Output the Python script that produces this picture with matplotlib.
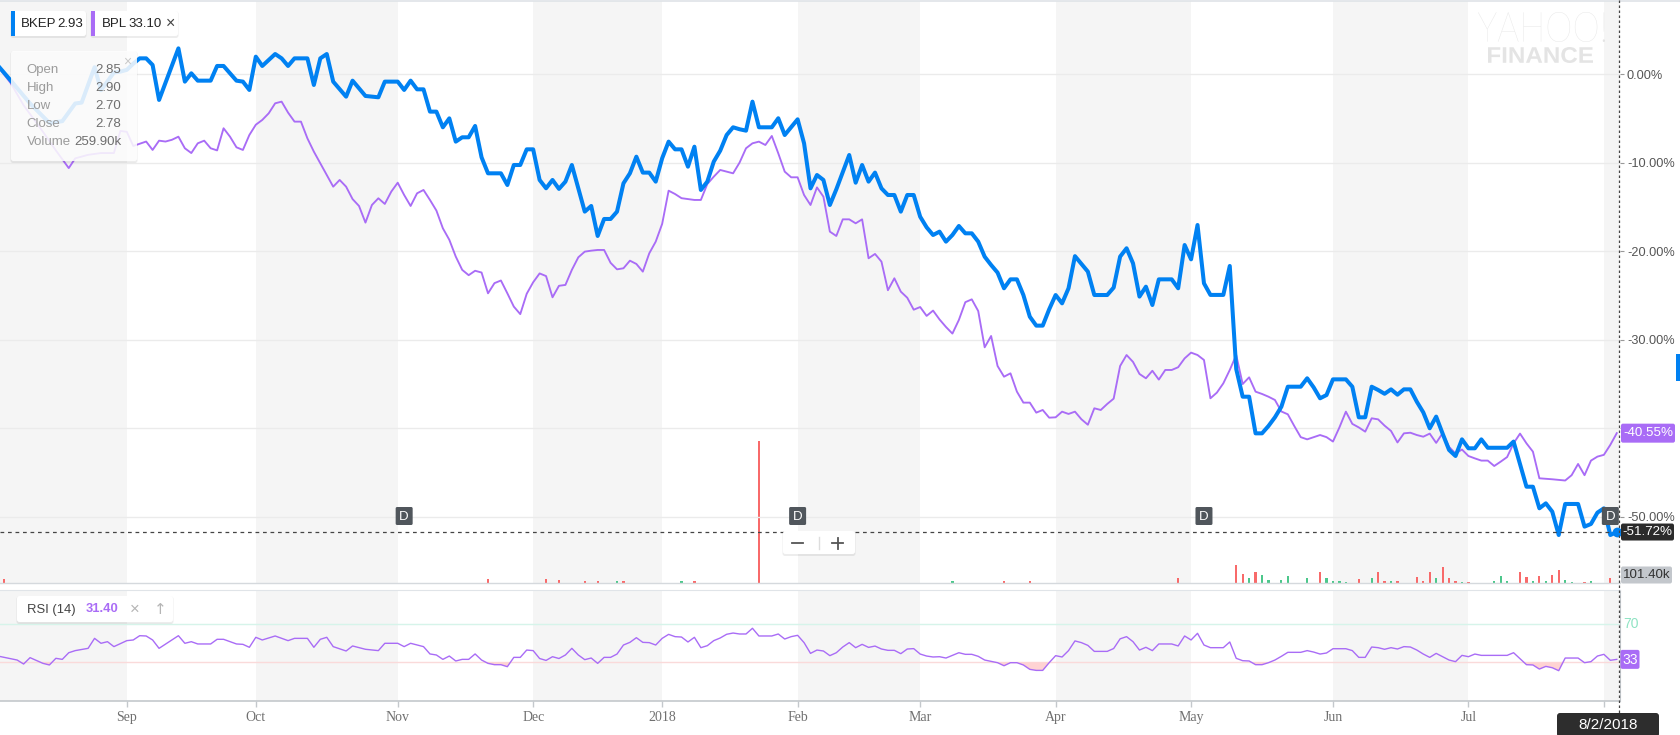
import matplotlib
matplotlib.use('Agg')
import matplotlib.pyplot as plt
from matplotlib.patches import FancyBboxPatch, Rectangle, PathPatch
from matplotlib.textpath import TextPath
from matplotlib.font_manager import FontProperties
from matplotlib.transforms import Affine2D

plt.rcParams['font.family'] = ['Liberation Sans', 'DejaVu Sans']

# ------------------------------------------------------------------ data
# x = trading-day index (0 = 1 Sep 2017), y = % change since start
bkep_points = [(-20, 1.0), (-18, -0.7), (-15, -3.3), (-12, -5.5), (-10, -5.3), (-8, -3.3), (-7, -3.2), (-5, 0.8),
    (-4, -1.8), (-2, 0.2), (-1, 0.3), (0, 0.5), (1, 1.2), (2, 1.8), (3, 1.8), (4, 1.05), (5, -2.9), (8, 2.93),
    (9, -0.83), (10, 0.11), (11, -0.72), (13, -0.72), (14, 0.94), (15, 0.94), (17, -0.72), (18, -0.83), (19, -1.77),
    (20, 1.99), (21, 0.94), (23, 2.29), (24, 1.8), (25, 0.94), (26, 1.8), (28, 1.8), (29, -1.21), (30, 1.8),
    (31, 2.29), (32, -0.83), (34, -2.53), (35, -0.72), (37, -2.45), (39, -2.6), (40, -0.83), (42, -0.83),
    (43, -1.77), (44, -0.72), (45, -1.7), (46, -1.7), (47, -4.22), (48, -4.22), (49, -5.99), (50, -4.98),
    (51, -7.61), (52, -7.12), (53, -7.12), (54, -5.84), (55, -9.38), (56, -11.19), (58, -11.19), (59, -12.51),
    (60, -10.25), (61, -10.25), (62, -8.48), (63, -8.48), (64, -11.94), (65, -12.88), (66, -11.94), (67, -12.95),
    (68, -12.13), (69, -10.25), (71, -15.52), (72, -14.88), (73, -18.27), (74, -16.35), (75, -16.35), (76, -15.52),
    (77, -12.32), (78, -11.19), (79, -9.31), (80, -11.11), (81, -11.11), (82, -12.13), (83, -9.49), (84, -7.61),
    (85, -8.48), (86, -8.48), (87, -10.44), (88, -8.18), (89, -13.07), (90, -12.13), (91, -9.87), (92, -8.63),
    (93, -6.86), (94, -5.99), (95, -6.21), (96, -6.37), (97, -3.09), (98, -5.99), (100, -5.99), (101, -4.97),
    (102, -6.86), (104, -5.09), (105, -7.8), (106, -12.89), (107, -11.38), (108, -11.94), (109, -14.77),
    (110, -13.0), (112, -9.12), (113, -12.25), (114, -10.25), (115, -12.13), (116, -11.11), (117, -12.89),
    (118, -13.64), (119, -13.64), (120, -15.52), (121, -13.64), (122, -13.64), (123, -16.09), (124, -17.29),
    (125, -18.16), (126, -17.78), (127, -18.91), (128, -18.16), (129, -17.14), (130, -17.97), (131, -17.97),
    (132, -18.91), (133, -20.61), (134, -21.55), (135, -22.41), (136, -24.18), (137, -23.17), (138, -23.17),
    (139, -24.94), (140, -27.39), (141, -28.4), (142, -28.4), (143, -26.56), (144, -24.94), (145, -25.88),
    (146, -24.18), (147, -20.55), (148, -21.43), (149, -22.3), (150, -24.94), (152, -24.94), (153, -24.1),
    (154, -20.6), (155, -19.66), (156, -21.36), (157, -25.12), (158, -24.0), (159, -26.07), (160, -23.17),
    (162, -23.17), (163, -24.18), (164, -19.29), (165, -20.91), (166, -17.03), (167, -23.62), (168, -24.93),
    (170, -24.93), (171, -21.66), (172, -33.3), (173, -36.43), (174, -36.43), (175, -40.57), (176, -40.57),
    (177, -39.74), (178, -38.76), (179, -37.56), (180, -35.3), (182, -35.3), (183, -34.35), (184, -35.37),
    (185, -36.61), (186, -36.24), (187, -34.47), (189, -34.47), (190, -35.3), (191, -38.76), (192, -38.76),
    (193, -35.3), (194, -35.67), (195, -36.1), (196, -35.6), (197, -36.2), (198, -35.6), (199, -35.6),
    (200, -37.0), (201, -38.2), (202, -40.0), (203, -38.68), (204, -40.6), (205, -42.45), (206, -43.13),
    (207, -41.25), (208, -42.26), (209, -42.26), (210, -41.25), (211, -42.2), (214, -42.2), (215, -41.5),
    (217, -46.6), (218, -46.6), (219, -49.04), (220, -48.48), (221, -49.42), (222, -52.06), (223, -48.55),
    (225, -48.55), (226, -51.11), (227, -50.81), (228, -49.53), (229, -49.04), (230, -52.06), (231, -51.72)]

bpl_points = [(-20, 0.9), (-18, -1.0), (-16, -3.5), (-13, -6.5), (-11, -8.6), (-9, -10.6), (-8, -9.5), (-6, -9.1),
    (-4, -8.9), (-2, -8.9), (-1, -6.4), (0, -6.5), (1, -8.1), (3, -7.6), (4, -8.55), (5, -7.5), (6, -7.6),
    (7, -7.4), (8, -7.05), (9, -8.36), (10, -8.9), (11, -7.8), (12, -7.5), (13, -8.36), (14, -8.6), (15, -6.1),
    (16, -7.05), (17, -8.25), (18, -8.55), (19, -6.86), (20, -5.7), (21, -5.16), (22, -4.41), (23, -3.28),
    (24, -3.09), (25, -4.33), (26, -5.35), (27, -5.35), (28, -7.24), (29, -8.74), (30, -10.06), (31, -11.38),
    (32, -12.7), (33, -11.94), (34, -12.7), (35, -14.1), (36, -14.88), (37, -16.76), (38, -14.77), (39, -14.01),
    (40, -14.65), (41, -13.26), (42, -12.25), (43, -13.64), (44, -14.88), (45, -13.45), (46, -13.07), (47, -14.2),
    (48, -15.4), (49, -17.4), (50, -18.7), (51, -20.6), (52, -22.1), (53, -22.7), (54, -22.2), (55, -22.4),
    (56, -24.75), (57, -23.6), (58, -23.3), (59, -24.75), (60, -26.25), (61, -27.1), (62, -24.8), (63, -23.5),
    (64, -22.5), (65, -22.8), (66, -25.2), (67, -23.9), (68, -23.8), (69, -22.1), (70, -20.68), (71, -20.04),
    (72, -19.93), (73, -19.85), (74, -19.85), (75, -21.3), (76, -22.04), (77, -21.92), (78, -21.06), (79, -21.43),
    (80, -22.3), (81, -20.23), (82, -18.91), (83, -16.9), (84, -13.15), (85, -13.53), (86, -14.0), (88, -14.2),
    (89, -14.2), (90, -12.4), (91, -11.57), (92, -10.81), (93, -11.0), (94, -11.19), (95, -9.98), (96, -8.36),
    (97, -7.8), (98, -7.61), (99, -7.99), (100, -6.97), (101, -8.93), (102, -11.0), (103, -11.64), (104, -11.64),
    (105, -13.64), (106, -14.77), (107, -12.78), (108, -13.83), (109, -17.78), (110, -18.27), (111, -16.39),
    (112, -16.39), (113, -16.84), (114, -16.39), (115, -20.79), (116, -20.3), (117, -21.17), (118, -24.4),
    (119, -23.05), (120, -24.56), (121, -25.25), (122, -26.6), (123, -26.3), (124, -27.3), (125, -26.7),
    (126, -27.7), (127, -28.55), (128, -29.3), (129, -27.76), (130, -25.75), (131, -25.43), (132, -26.75),
    (133, -30.85), (134, -29.57), (135, -32.96), (136, -34.17), (137, -33.79), (138, -35.86), (139, -37.1),
    (140, -37.1), (141, -38.23), (142, -37.93), (143, -38.8), (144, -38.76), (145, -38.12), (146, -38.38),
    (147, -38.12), (148, -38.98), (149, -39.6), (150, -37.74), (151, -37.93), (152, -37.25), (153, -36.65),
    (154, -32.96), (155, -31.72), (156, -32.5), (157, -33.86), (158, -34.35), (159, -33.5), (160, -34.5),
    (161, -33.41), (162, -33.41), (163, -33.1), (164, -32.1), (165, -31.45), (166, -31.72), (167, -32.28),
    (168, -36.61), (169, -35.97), (170, -34.92), (171, -33.41), (172, -31.72), (173, -35.0), (174, -34.24),
    (175, -35.86), (176, -36.12), (177, -36.43), (178, -36.8), (179, -38.1), (180, -38.42), (181, -39.74),
    (182, -41.0), (183, -41.25), (184, -41.0), (185, -40.76), (186, -41.0), (187, -41.5), (188, -39.9),
    (189, -38.12), (190, -39.5), (191, -39.9), (192, -40.38), (193, -38.87), (194, -38.99), (195, -39.7),
    (196, -40.3), (197, -41.6), (198, -40.57), (199, -40.5), (200, -40.76), (201, -40.95), (202, -40.6),
    (203, -41.65), (204, -40.55), (205, -42.1), (206, -42.85), (207, -42.4), (208, -43.13), (209, -43.4),
    (210, -43.65), (211, -43.65), (212, -44.26), (213, -43.77), (214, -43.25), (215, -41.7), (216, -40.6),
    (217, -41.7), (218, -42.64), (219, -45.65), (221, -45.76), (223, -45.9), (224, -45.3), (225, -44.03),
    (226, -45.3), (227, -43.65), (228, -43.2), (229, -43.0), (230, -41.87), (231, -40.55)]

rsi_points = [(-20, 36.6), (-17, 32.4), (-16, 28.2), (-15, 34.9), (-13, 28.9), (-12, 27.2), (-11, 34.2), (-10, 33.1),
    (-9, 40.1), (-8, 42.3), (-6, 44.7), (-5, 55.2), (-4, 50.0), (-3, 51.7), (-2, 46.5), (0, 52.8), (1, 53.5),
    (2, 58.0), (3, 57.7), (4, 53.5), (5, 44.7), (8, 58.0), (9, 50.0), (10, 51.7), (11, 49.3), (13, 49.3),
    (14, 54.2), (15, 54.2), (17, 49.3), (18, 48.9), (19, 45.8), (20, 56.3), (21, 53.5), (23, 57.7), (25, 52.8),
    (26, 55.2), (28, 55.2), (29, 45.8), (30, 54.2), (31, 56.3), (32, 46.5), (34, 41.9), (35, 47.2), (37, 43.7),
    (39, 42.3), (40, 50.0), (42, 50.0), (43, 46.5), (44, 50.0), (46, 46.5), (47, 38.8), (48, 37.7), (49, 33.1),
    (50, 36.6), (51, 31.4), (52, 33.1), (53, 33.1), (54, 38.8), (55, 32.4), (56, 28.9), (57, 27.5), (58, 27.5),
    (59, 25.4), (60, 35.2), (61, 35.2), (62, 42.9), (63, 42.3), (64, 34.0), (65, 32.0), (66, 35.9), (67, 34.0),
    (68, 37.7), (69, 44.7), (70, 37.7), (71, 32.8), (72, 34.5), (73, 28.9), (74, 35.2), (75, 35.2), (76, 38.7),
    (77, 48.2), (78, 51.0), (79, 55.9), (80, 51.0), (81, 50.7), (82, 48.2), (83, 55.2), (84, 59.4), (85, 57.0),
    (86, 56.6), (87, 51.4), (88, 56.3), (89, 45.4), (90, 47.5), (91, 52.8), (92, 55.6), (93, 59.5), (94, 60.8),
    (95, 59.8), (96, 59.8), (97, 65.8), (98, 57.7), (100, 57.7), (101, 59.8), (102, 54.5), (103, 57.0),
    (104, 58.4), (105, 50.7), (106, 39.4), (107, 42.9), (108, 41.9), (109, 37.0), (110, 40.1), (111, 46.1),
    (112, 50.7), (113, 45.4), (114, 48.9), (115, 45.7), (116, 47.1), (117, 44.0), (118, 42.6), (119, 42.6),
    (120, 39.1), (121, 44.0), (122, 44.4), (123, 38.7), (124, 36.6), (125, 35.6), (126, 35.9), (127, 34.5),
    (128, 37.3), (129, 40.1), (130, 38.4), (131, 38.4), (132, 36.3), (133, 32.4), (134, 31.0), (135, 29.6),
    (136, 26.4), (137, 29.6), (138, 29.6), (139, 27.2), (140, 22.6), (141, 21.5), (142, 21.5), (143, 29.6),
    (144, 37.0), (145, 35.6), (146, 42.3), (147, 52.5), (148, 50.7), (149, 47.8), (150, 41.5), (151, 41.5),
    (152, 41.5), (153, 44.5), (154, 54.7), (155, 57.0), (156, 51.7), (157, 42.9), (158, 45.8), (159, 42.3),
    (160, 49.3), (162, 49.3), (163, 47.2), (164, 57.7), (165, 53.5), (166, 60.5), (167, 48.2), (168, 45.4),
    (170, 45.4), (171, 51.4), (172, 34.2), (173, 31.7), (174, 31.4), (175, 27.5), (176, 27.5), (177, 29.6),
    (178, 32.4), (179, 36.3), (180, 40.5), (182, 40.5), (183, 42.3), (184, 40.8), (185, 38.7), (186, 39.8),
    (187, 44.3), (189, 44.3), (190, 42.3), (191, 35.2), (192, 35.2), (193, 46.1), (194, 45.4), (195, 43.7),
    (196, 45.4), (197, 44.0), (198, 46.5), (199, 46.1), (200, 42.9), (201, 38.7), (202, 35.2), (203, 39.4),
    (204, 35.9), (205, 32.4), (206, 30.7), (207, 37.3), (208, 35.9), (209, 38.7), (210, 37.3), (214, 37.3),
    (215, 40.1), (216, 33.8), (217, 27.5), (218, 27.2), (219, 22.9), (220, 25.7), (221, 24.3), (222, 21.2),
    (223, 34.5), (225, 34.5), (226, 29.6), (227, 30.7), (228, 36.6), (229, 38.4), (230, 32.1), (231, 33.1)]

# volume (thousands of shares), +1 = up day (green), -1 = down day (red)
vol_points = [(-19, 80, -1), (56, 80, -1), (65, 80, -1), (67, 60, -1), (71, 50, -1), (73, 40, -1), (76, 40, 1),
    (77, 40, -1), (86, 40, 1), (88, 40, -1), (98, 2880, -1), (128, 40, 1), (136, 40, -1), (140, 40, -1),
    (163, 100, -1), (172, 372, -1), (173, 190, -1), (174, 95, 1), (175, 217, -1), (176, 156, 1), (177, 55, 1),
    (179, 55, 1), (180, 136, 1), (183, 95, 1), (185, 217, -1), (186, 95, 1), (187, 35, 1), (188, 35, 1),
    (189, 15, 1), (191, 75, -1), (193, 95, 1), (194, 217, -1), (195, 35, -1), (196, 35, 1), (197, 35, -1),
    (200, 116, -1), (201, 35, -1), (202, 217, -1), (203, 95, 1), (204, 319, -1), (205, 95, -1), (206, 35, -1),
    (207, 15, 1), (208, 15, -1), (212, 35, 1), (213, 148, 1), (214, 35, 1), (216, 217, -1), (217, 116, -1),
    (218, 35, 1), (219, 136, -1), (220, 35, 1), (221, 169, -1), (222, 258, -1), (223, 55, 1), (224, 15, 1),
    (226, 15, -1), (227, 35, 1), (230, 101, -1)]

month_start = [0, 20, 42, 63, 83, 104, 123, 144, 165, 187, 208, 229]
month_label = ['Sep', 'Oct', 'Nov', 'Dec', '2018', 'Feb', 'Mar', 'Apr', 'May', 'Jun', 'Jul', '']
dividend_days = [43, 104, 167, 230]
pct_ticks = [0, -10, -20, -30, -40, -50]
tooltip_rows = [('Open', '2.85'), ('High', '2.90'), ('Low', '2.70'), ('Close', '2.78'), ('Volume', '259.90k')]
bkep_last_price, bpl_last_price = '2.93', '33.10'
rsi_last = '31.40'
last_volume = '101.40k'
last_date = '8/2/2018'

# ------------------------------------------------------------------ layout
W, H = 1681, 735
PLOT_R = 1620.0
X0, X1 = -19.66, 231.5
MAIN_TOP, MAIN_BOT = 1.0, 583.0
RSI_TOP, RSI_BOT = 589.5, 701.0
PCT_HI, PCT_LO = 8.28, -57.48
RSI_LO, RSI_HI = -10.7, 106.6
VOL_MAX = 11815

BLUE = '#0081f2'
PURPLE = '#a96cf6'
SHADE = '#f5f5f5'
RED = '#f86a6a'
GREEN = '#4cc78b'

fig = plt.figure(figsize=(W / 100, H / 100), dpi=100)


def rect(top, bot, left=0.0, right=PLOT_R):
    return [left / W, 1 - bot / H, (right - left) / W, (bot - top) / H]


def d2px(d):
    return (d - X0) / (X1 - X0) * PLOT_R


def pct2px(v):
    return MAIN_TOP + (PCT_HI - v) / (PCT_HI - PCT_LO) * (MAIN_BOT - MAIN_TOP)


def rsi2px(v):
    return RSI_TOP + (RSI_HI - v) / (RSI_HI - RSI_LO) * (RSI_BOT - RSI_TOP)


bg = fig.add_axes(rect(MAIN_TOP, MAIN_BOT))
ax = fig.add_axes(rect(MAIN_TOP, MAIN_BOT))
rax = fig.add_axes(rect(RSI_TOP, RSI_BOT))
bg.set_zorder(1); ax.set_zorder(2); rax.set_zorder(1)
ax.patch.set_visible(False)

# month shading
bands = [(X0, month_start[0])] + [(month_start[i], month_start[i + 1]) for i in (1, 3, 5, 7, 9)] + [(month_start[11], X1)]
for s, e in bands:
    bg.axvspan(s, e, color=SHADE, lw=0, zorder=0)
    rax.axvspan(s, e, color=SHADE, lw=0, zorder=0)

# volume bars
vd = [p[0] for p in vol_points]
vv = [p[1] for p in vol_points]
vc = [GREEN if p[2] > 0 else RED for p in vol_points]
bg.bar(vd, vv, width=0.34, color=vc, lw=0, zorder=1)
bg.set_xlim(X0, X1)
bg.set_ylim(0, VOL_MAX)
bg.axis('off')

# price comparison lines
ax.set_xlim(X0, X1)
ax.set_ylim(PCT_LO, PCT_HI)
ax.plot([p[0] for p in bpl_points], [p[1] for p in bpl_points], color=PURPLE, lw=1.35, zorder=3)
ax.plot([p[0] for p in bkep_points], [p[1] for p in bkep_points], color=BLUE, lw=2.9, zorder=4,
        solid_joinstyle='round')
ax.axhline(bkep_points[-1][1], color='#444444', lw=0.9, ls=(0, (3, 3)), zorder=5)
ax.plot([bkep_points[-1][0]], [bkep_points[-1][1]], 'o', ms=6, color=BLUE, clip_on=False, zorder=6)
ax.set_yticks(pct_ticks)
# the -40% label sits underneath the BPL value flag, so it is not printed
ax.set_yticklabels(['' if t == -40 else f'{t:.2f}%' for t in pct_ticks])
ax.yaxis.tick_right()
ax.tick_params(axis='y', length=3, width=0.8, color='#999999', labelsize=9.2, labelcolor='#555555', pad=2)
ax.tick_params(axis='x', bottom=False, labelbottom=False)
ax.grid(axis='y', color='#ebebeb', lw=1)
for sp in ax.spines.values():
    sp.set_visible(False)

# RSI panel
rd = [p[0] for p in rsi_points]
rv = [p[1] for p in rsi_points]
rax.set_xlim(X0, X1)
rax.set_ylim(RSI_LO, RSI_HI)
rax.axhline(70, color='#d6f4ea', lw=1, zorder=1)
rax.axhline(30, color='#fadada', lw=1, zorder=1)
rax.fill_between(rd, rv, 30, where=[v < 30 for v in rv], interpolate=True, color='#ffd3d3', lw=0, zorder=2)
rax.plot(rd, rv, color=PURPLE, lw=1.0, zorder=3)
rax.set_yticks([])
rax.set_xticks(month_start)
rax.set_xticklabels(month_label)
rax.tick_params(axis='x', length=4, width=1, color='#c4c8cc', labelsize=10, labelcolor='#707070', pad=3)
for lab in rax.get_xticklabels():
    lab.set_fontfamily(['Liberation Serif', 'DejaVu Serif'])
rax.spines['left'].set_visible(False)
rax.spines['top'].set_color('#e0e4e8')
rax.spines['bottom'].set_color('#c4c8cc')
rax.spines['right'].set_color('#c4c8cc')
rax.spines['bottom'].set_linewidth(1.2)

# ------------------------------------------------------------------ overlay chrome (pixel coords)
ov = fig.add_axes([0, 0, 1, 1])
ov.set_zorder(20)
ov.set_xlim(0, W)
ov.set_ylim(H, 0)
ov.axis('off')
ov.patch.set_visible(False)


def box(x, y, w, h, fc, r=2.5, shadow=False, alpha=1.0, z=1):
    if shadow:
        ov.add_patch(FancyBboxPatch((x - 0.5, y + 0.5), w + 1, h + 1.5, boxstyle=f'round,pad=0,rounding_size={r}',
                                    fc='#000000', ec='none', alpha=0.07, zorder=z))
    ov.add_patch(FancyBboxPatch((x, y), w, h, boxstyle=f'round,pad=0,rounding_size={r}',
                                fc=fc, ec='none', alpha=alpha, zorder=z + 0.1))


def fit_text(s, x0, y0, x1, y1, prop, color):
    tp = TextPath((0, 0), s, size=100, prop=prop)
    bb = tp.get_extents()
    tr = Affine2D().translate(-bb.x0, -bb.y0).scale((x1 - x0) / bb.width, -(y1 - y0) / bb.height).translate(x0, y1)
    ov.add_patch(PathPatch(tr.transform_path(tp), fc=color, ec='none', zorder=0.5))


# frame lines
ov.plot([0, W], [0.5, 0.5], color='#dfe3e7', lw=1.2)
ov.plot([0, PLOT_R], [MAIN_BOT, MAIN_BOT], color='#d5d9dd', lw=1)

# watermark
fit_text('YAHOO!', 1478, 12, 1605, 42, FontProperties(family='Lato', weight='light'), '#e4e4e4')
fit_text('FINANCE', 1488, 47, 1593, 63, FontProperties(family='Liberation Sans', weight='bold'), '#e4e4e4')

# top-left legend chips
box(11, 11, 75, 25, 'white', shadow=True, z=3)
ov.add_patch(Rectangle((11, 11), 4, 25, fc=BLUE, ec='none', zorder=3.5))
ov.text(21, 24, 'BKEP', fontsize=9.5, color='#222222', va='center', ha='left', zorder=4)
ov.text(57, 24, bkep_last_price, fontsize=9.5, color='#222222', va='center', ha='left', zorder=4)
box(91, 11, 87, 25, 'white', shadow=True, z=3)
ov.add_patch(Rectangle((91, 11), 4.5, 25, fc=PURPLE, ec='none', zorder=3.5))
ov.text(101.5, 24, 'BPL', fontsize=9.5, color='#222222', va='center', ha='left', zorder=4)
ov.text(128, 24, bpl_last_price, fontsize=9.5, color='#222222', va='center', ha='left', zorder=4)
ov.text(171, 23.5, '×', fontsize=11.5, color='#444444', va='center', ha='center', zorder=4)

# OHLC tooltip
box(11, 51, 126, 110, 'white', shadow=True, alpha=0.86, z=3)
for i, (lab, val) in enumerate(tooltip_rows):
    yy = 70 + i * 18
    ov.text(26.5, yy, lab, fontsize=9.5, color='#9b9b9b', va='center', ha='left', zorder=4)
    ov.text(121.5, yy, val, fontsize=9.5, color='#6e6e6e', va='center', ha='right', zorder=4)
ov.text(127.5, 61.5, '×', fontsize=10, color='#c8c8c8', va='center', ha='center', zorder=4)

# dividend markers
for d in dividend_days:
    xc = d2px(d)
    ov.add_patch(FancyBboxPatch((xc - 8.5, 507), 17, 18, boxstyle='round,pad=0,rounding_size=1.5',
                                fc='#50565c', ec='none', zorder=5))
    ov.text(xc, 516.5, 'D', fontsize=9.5, color='white', ha='center', va='center', zorder=6)

# zoom control
box(783, 531, 72, 23, 'white', shadow=True, z=5)
ov.plot([792, 803], [543, 543], color='#555555', lw=1.3, zorder=6)
ov.plot([819, 819], [537, 549], color='#dddddd', lw=1, zorder=6)
ov.plot([832.5, 843.5], [543, 543], color='#555555', lw=1.3, zorder=6)
ov.plot([838, 838], [537.5, 548.5], color='#555555', lw=1.3, zorder=6)

# right-side value labels
yb = pct2px(bpl_points[-1][1])
box(1621, yb - 9.5, 54, 19, PURPLE, r=2, z=6)
ov.text(1648, yb + 0.3, f'{bpl_points[-1][1]:.2f}%', fontsize=9.6, color='white', ha='center', va='center', zorder=7)
yk = pct2px(bkep_points[-1][1])
box(1621, yk - 8.5, 53, 17, '#2b2b2b', r=2, z=6)
ov.text(1647.5, yk + 0.3, f'{bkep_points[-1][1]:.2f}%', fontsize=9.6, color='white', ha='center', va='center', zorder=7)
box(1621, 566.5, 51, 17, '#c3c7cc', r=2, z=6)
ov.text(1646.5, 575.3, last_volume, fontsize=9.6, color='#333333', ha='center', va='center', zorder=7)
ov.add_patch(Rectangle((1676, 354), 5, 27, fc=BLUE, ec='none', zorder=6))

# crosshair
ov.plot([1619, 1619], [0, 713], color='#444444', lw=0.9, ls=(0, (2, 2)), zorder=6)

# RSI legend and labels
box(17, 596, 156, 26, 'white', shadow=True, z=3)
ov.text(27.5, 609.5, 'RSI (14)', fontsize=9.4, color='#444444', ha='left', va='center', zorder=4)
ov.text(86, 609.5, rsi_last, fontsize=9.4, color=PURPLE, ha='left', va='center', fontweight='bold', zorder=4)
ov.text(135, 609.5, '×', fontsize=12, color='#b5b5b5', ha='center', va='center', zorder=4)
ov.text(160, 609.5, '↑', fontsize=11, color='#b5b5b5', ha='center', va='center', zorder=4,
        family=['DejaVu Sans'])
ov.text(1623, rsi2px(70), '70', fontsize=10, color='#8fe3c3', ha='left', va='center', zorder=4)
yr = rsi2px(rsi_points[-1][1])
box(1620.5, yr - 9.5, 19, 19, PURPLE, r=2, z=6)
ov.text(1630, yr + 0.3, f'{rsi_points[-1][1]:.0f}', fontsize=10, color='white', ha='center', va='center', zorder=7)

# date label
box(1557, 713, 102, 24, '#2d2d2d', r=3, z=8)
ov.text(1608, 725, last_date, fontsize=11, color='white', ha='center', va='center', zorder=9)

fig.savefig('out.png', dpi=100)
